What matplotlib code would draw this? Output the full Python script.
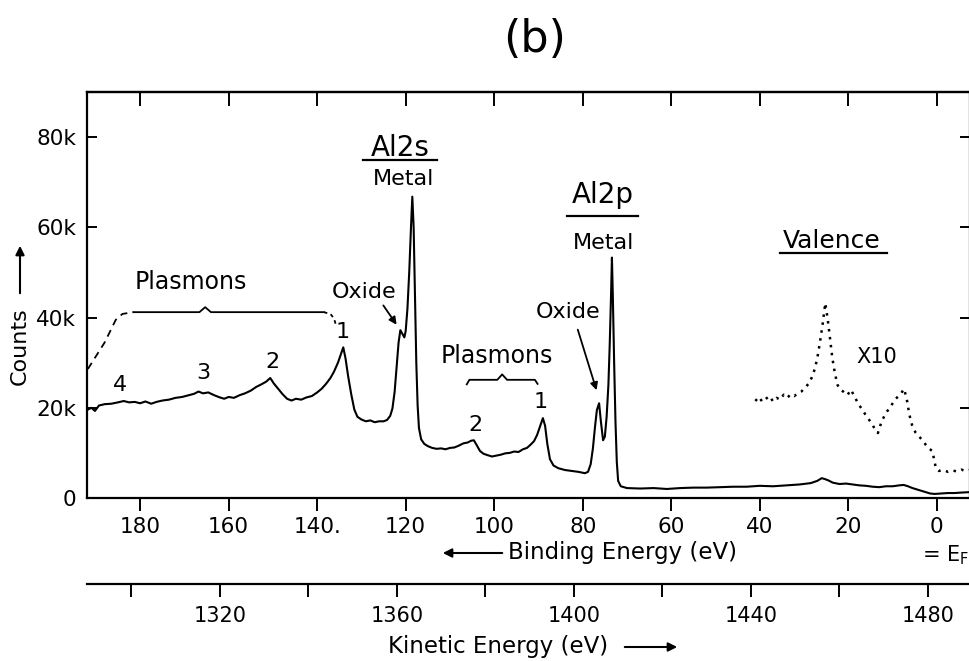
import matplotlib
matplotlib.use("Agg")
import matplotlib.pyplot as plt
import numpy as np

plt.rcParams['font.family'] = ['DejaVu Sans']

# ---- data (binding energy in eV, counts in thousands) ----
main_be = [191.8, 191.0, 190.2, 189.3, 188.0, 186.5, 185.0, 183.7, 182.5, 181.2, 180.0, 178.8, 177.5, 176.3,
           175.0, 173.5, 172.0, 170.5, 169.0, 167.8, 166.8, 165.8, 164.6, 163.3, 162.0, 161.0, 160.0, 158.8,
           157.5, 156.3, 155.0, 153.8, 152.6, 151.5, 150.6, 149.8, 148.8, 147.8, 146.8, 145.8, 144.8, 143.6,
           142.4, 141.2, 140.0, 139.0, 138.0, 137.0, 136.2, 135.3, 134.5, 134.1, 133.6, 133.0, 132.3, 131.6,
           130.9, 130.0, 129.0, 128.0, 127.0, 126.0, 125.0, 124.2, 123.5, 123.0, 122.5, 122.0, 121.6, 121.2,
           120.8, 120.3, 120.0, 119.6, 119.2, 118.8, 118.5, 118.2, 117.9, 117.6, 117.3, 117.0, 116.5, 115.8,
           115.0, 114.0, 113.0, 112.0, 111.0, 110.0, 109.0, 108.0, 107.0, 106.0, 105.2, 104.6, 104.0, 103.2,
           102.4, 101.5, 100.5, 99.5, 98.5, 97.5, 96.5, 95.5, 94.5, 93.5, 92.6, 91.8, 91.0, 90.3, 89.6, 89.0,
           88.5, 88.0, 87.4, 86.6, 85.5, 84.0, 82.5, 81.0, 79.5, 78.8, 78.2, 77.7, 77.2, 76.8, 76.3, 75.9,
           75.4, 75.0, 74.6, 74.2, 73.9, 73.6, 73.4, 73.2, 72.9, 72.6, 72.3, 72.0, 71.4, 70.0, 67.0, 64.0,
           61.0, 58.0, 55.0, 52.0, 49.0, 46.0, 43.0, 40.0, 37.0, 34.0, 31.0, 28.5, 27.0, 26.0, 25.3, 24.5,
           23.5, 22.0, 20.5, 19.0, 17.5, 16.0, 14.5, 13.0, 11.5, 10.0, 8.5, 7.5, 6.5, 5.5, 4.5, 3.5, 2.5,
           1.5, 0.5, -1.0, -2.5, -4.0, -5.5, -7.4]
main_counts = [19.6, 20.0, 19.3, 20.5, 20.8, 20.9, 21.2, 21.5, 21.2, 21.3, 21.0, 21.4, 20.9, 21.3,
               21.6, 21.8, 22.2, 22.4, 22.8, 23.1, 23.6, 23.2, 23.4, 22.8, 22.3, 22.0, 22.4, 22.2,
               22.8, 23.2, 23.8, 24.6, 25.2, 25.8, 26.6, 25.4, 24.2, 23.0, 22.0, 21.6, 22.0, 21.8,
               22.3, 22.6, 23.4, 24.2, 25.3, 26.6, 28.0, 30.0, 32.3, 33.4, 31.0, 27.0, 23.0, 19.6,
               18.0, 17.4, 17.0, 17.2, 16.8, 17.0, 17.0, 17.3, 18.2, 19.8, 23.5, 29.5, 34.5, 37.2,
               36.5, 35.6, 37.0, 42.0, 50.0, 60.0, 66.8, 60.0, 45.0, 30.0, 20.5, 15.5, 13.0, 12.0,
               11.5, 11.1, 10.9, 11.0, 10.8, 11.1, 11.2, 11.6, 12.1, 12.3, 12.7, 12.8, 11.8, 10.4,
               9.8, 9.5, 9.2, 9.4, 9.6, 9.9, 10.0, 10.3, 10.2, 10.8, 11.1, 11.8, 12.6, 14.0, 16.0, 17.7,
               16.0, 12.0, 8.6, 7.2, 6.6, 6.2, 6.0, 5.8, 5.5, 5.8, 7.5, 11.0, 16.0, 19.5, 21.0, 17.0,
               12.8, 13.6, 18.0, 25.0, 34.0, 45.0, 53.3, 45.0, 30.0, 17.0, 8.0, 3.8, 2.6, 2.2, 2.1, 2.2,
               2.0, 2.2, 2.3, 2.3, 2.4, 2.5, 2.5, 2.7, 2.6, 2.8, 3.0, 3.3, 3.8, 4.4, 4.2, 3.9,
               3.4, 3.1, 3.2, 3.0, 2.8, 2.7, 2.5, 2.4, 2.6, 2.6, 2.8, 2.9, 2.6, 2.2, 1.9, 1.6, 1.3,
               1.0, 0.9, 1.0, 1.1, 1.1, 1.2, 1.3]

valence_be = [41.0, 40.2, 39.4, 38.6, 37.8, 37.0, 36.2, 35.4, 34.6, 33.8, 33.0, 32.2, 31.4, 30.6, 29.8,
              29.0, 28.3, 27.6, 27.0, 26.4, 25.8, 25.2, 24.7, 24.2, 23.6, 23.0, 22.4, 21.8, 21.0, 20.2,
              19.4, 18.6, 17.8, 17.0, 16.2, 15.4, 14.6, 13.8, 13.3, 12.8, 12.2, 11.5, 10.8, 10.1, 9.4,
              8.7, 8.0, 7.4, 6.8, 6.2, 5.6, 4.8, 4.0, 3.2, 2.5, 1.8, 1.0, 0.6, 0.2, -0.5, -1.5, -2.5,
              -3.5, -4.5, -5.5, -6.5, -7.4]
valence_x10 = [21.5, 22.4, 21.3, 22.0, 22.6, 21.4, 22.2, 21.8, 22.9, 22.2, 23.0, 22.6, 23.2, 23.6, 24.4,
               25.3, 26.6, 28.5, 31.0, 34.5, 38.5, 43.2, 40.0, 36.0, 31.0, 27.5, 25.0, 24.0, 23.5, 22.8,
               24.0, 22.5, 21.0, 19.8, 18.6, 17.5, 16.3, 15.0, 14.4, 16.0, 17.5, 18.8, 19.8, 20.8, 21.8,
               22.6, 23.3, 24.2, 22.0, 18.5, 16.2, 14.5, 13.6, 12.8, 11.8, 11.0, 10.4, 8.5, 6.6, 6.0, 6.2, 5.8,
               6.1, 5.9, 6.3, 6.0, 6.2]

be_ticks = [180, 160, 140, 120, 100, 80, 60, 40, 20, 0]
be_ticklabels = ['180', '160', '140.', '120', '100', '80', '60', '40', '20', '0']
count_ticks = [0, 20, 40, 60, 80]
count_ticklabels = ['0', '20k', '40k', '60k', '80k']
ke_major = [1320, 1360, 1400, 1440, 1480]
ke_minor = [1300, 1340, 1380, 1420, 1460]
photon_minus_phi = 1482.0

fig = plt.figure(figsize=(9.7, 6.61), dpi=100)
ax = fig.add_axes([87/970, 1-498/661, 1-87/970, (498-92)/661])

ax.plot(main_be, main_counts, color='black', lw=1.5)
ax.plot(valence_be, valence_x10, color='black', lw=1.8, ls=(0, (1, 2.2)))

ax.set_xlim(192.0, -7.5)
ax.set_ylim(0, 90)

for s in ax.spines.values():
    s.set_linewidth(1.6)

ax.set_xticks(be_ticks)
ax.set_xticklabels(be_ticklabels, fontsize=15.5)
ax.tick_params(axis='x', direction='out', length=9, width=1.4, pad=5, top=False)
ax.set_yticks(count_ticks)
ax.set_yticklabels(count_ticklabels, fontsize=15.5)
ax.tick_params(axis='y', direction='in', length=7, width=1.4, pad=8, right=True)

top = ax.secondary_xaxis('top')
top.set_xticks(be_ticks)
top.set_xticklabels([])
top.tick_params(direction='in', length=10, width=1.4)
top.spines['top'].set_linewidth(1.6)

ke = ax.secondary_xaxis(-0.212, functions=(lambda b: photon_minus_phi - b, lambda k: photon_minus_phi - k))
ke.set_xticks(ke_major)
ke.set_xticks(ke_minor, minor=True)
ke.set_xticklabels([str(v) for v in ke_major], fontsize=15)
ke.tick_params(which='both', direction='out', length=9, width=1.4, pad=7)
ke.spines['bottom'].set_linewidth(1.6)

# ---- annotations ----
fs_lab = 17
# upper-left plasmon bracket
ax.plot([191.8, 188.0, 185.5, 184.0, 181.5], [28.6, 34.5, 39.5, 40.8, 41.2], color='black', lw=1.3, ls=(0, (4, 3)))
ax.plot([181.5, 166.6, 165.3, 164.0, 138.5], [41.2, 41.2, 42.3, 41.2, 41.2], color='black', lw=1.3)
ax.plot([138.5, 137.0, 136.2, 135.8], [41.2, 40.8, 39.8, 38.5], color='black', lw=1.3, ls=(0, (2, 2)))
ax.text(168.6, 47.9, 'Plasmons', fontsize=fs_lab, ha='center', va='center')
for lbl, bx, cy in [('4', 184.5, 25.0), ('3', 165.7, 27.7), ('2', 150.1, 30.1), ('1', 134.3, 36.8),
                    ('2', 104.3, 16.2), ('1', 89.4, 21.3)]:
    ax.text(bx, cy, lbl, fontsize=16, ha='center', va='center')

# second plasmon bracket
ax.plot([106.2, 105.6, 99.3, 98.2, 97.1, 90.8, 90.2], [25.2, 26.2, 26.2, 27.4, 26.2, 26.2, 25.3], color='black', lw=1.3)
ax.text(99.3, 31.5, 'Plasmons', fontsize=fs_lab, ha='center', va='center')

# Al 2s
ax.text(121.2, 77.6, 'Al2s', fontsize=20, ha='center', va='center')
ax.plot([129.6, 112.9], [75.0, 75.0], color='black', lw=1.6)
ax.text(120.5, 70.7, 'Metal', fontsize=16, ha='center', va='center')
ax.text(129.3, 45.6, 'Oxide', fontsize=16, ha='center', va='center')
ax.annotate('', xy=(121.7, 37.9), xytext=(125.4, 43.2),
            arrowprops=dict(arrowstyle='-|>', color='black', lw=1.3, mutation_scale=11))

# Al 2p
ax.text(75.4, 67.1, 'Al2p', fontsize=20, ha='center', va='center')
ax.plot([83.5, 67.5], [62.6, 62.6], color='black', lw=1.6)
ax.text(75.4, 56.5, 'Metal', fontsize=16, ha='center', va='center')
ax.text(83.3, 41.2, 'Oxide', fontsize=16, ha='center', va='center')
ax.annotate('', xy=(76.7, 23.3), xytext=(81.3, 37.9),
            arrowprops=dict(arrowstyle='-|>', color='black', lw=1.3, mutation_scale=11))

# Valence
ax.text(23.7, 57.0, 'Valence', fontsize=18, ha='center', va='center')
ax.plot([35.4, 11.3], [54.2, 54.2], color='black', lw=1.6)
ax.text(13.5, 31.2, 'X10', fontsize=15, ha='center', va='center')

# ---- figure-level labels ----
fig.text(535/970, 1-40/661, '(b)', fontsize=32, ha='center', va='center')
fig.text(20/970, 1-346/661, 'Counts', fontsize=16, rotation=90, ha='center', va='center')
fig.patches.append(matplotlib.patches.FancyArrowPatch((20/970, 1-296/661), (20/970, 1-243/661),
                   transform=fig.transFigure, arrowstyle='-|>', mutation_scale=13, color='black', lw=1.5))
fig.text(623/970, 1-553/661, 'Binding Energy (eV)', fontsize=16.5, ha='center', va='center')
fig.patches.append(matplotlib.patches.FancyArrowPatch((505/970, 1-553/661), (440/970, 1-553/661),
                   transform=fig.transFigure, arrowstyle='-|>', mutation_scale=13, color='black', lw=1.5))
fig.text(945/970, 1-555/661, r'= E$_\mathregular{F}$', fontsize=15, ha='center', va='center')
fig.text(498/970, 1-647/661, 'Kinetic Energy (eV)', fontsize=16.5, ha='center', va='center')
fig.patches.append(matplotlib.patches.FancyArrowPatch((622/970, 1-647/661), (680/970, 1-647/661),
                   transform=fig.transFigure, arrowstyle='-|>', mutation_scale=13, color='black', lw=1.5))

fig.savefig('out.png', dpi=100)
